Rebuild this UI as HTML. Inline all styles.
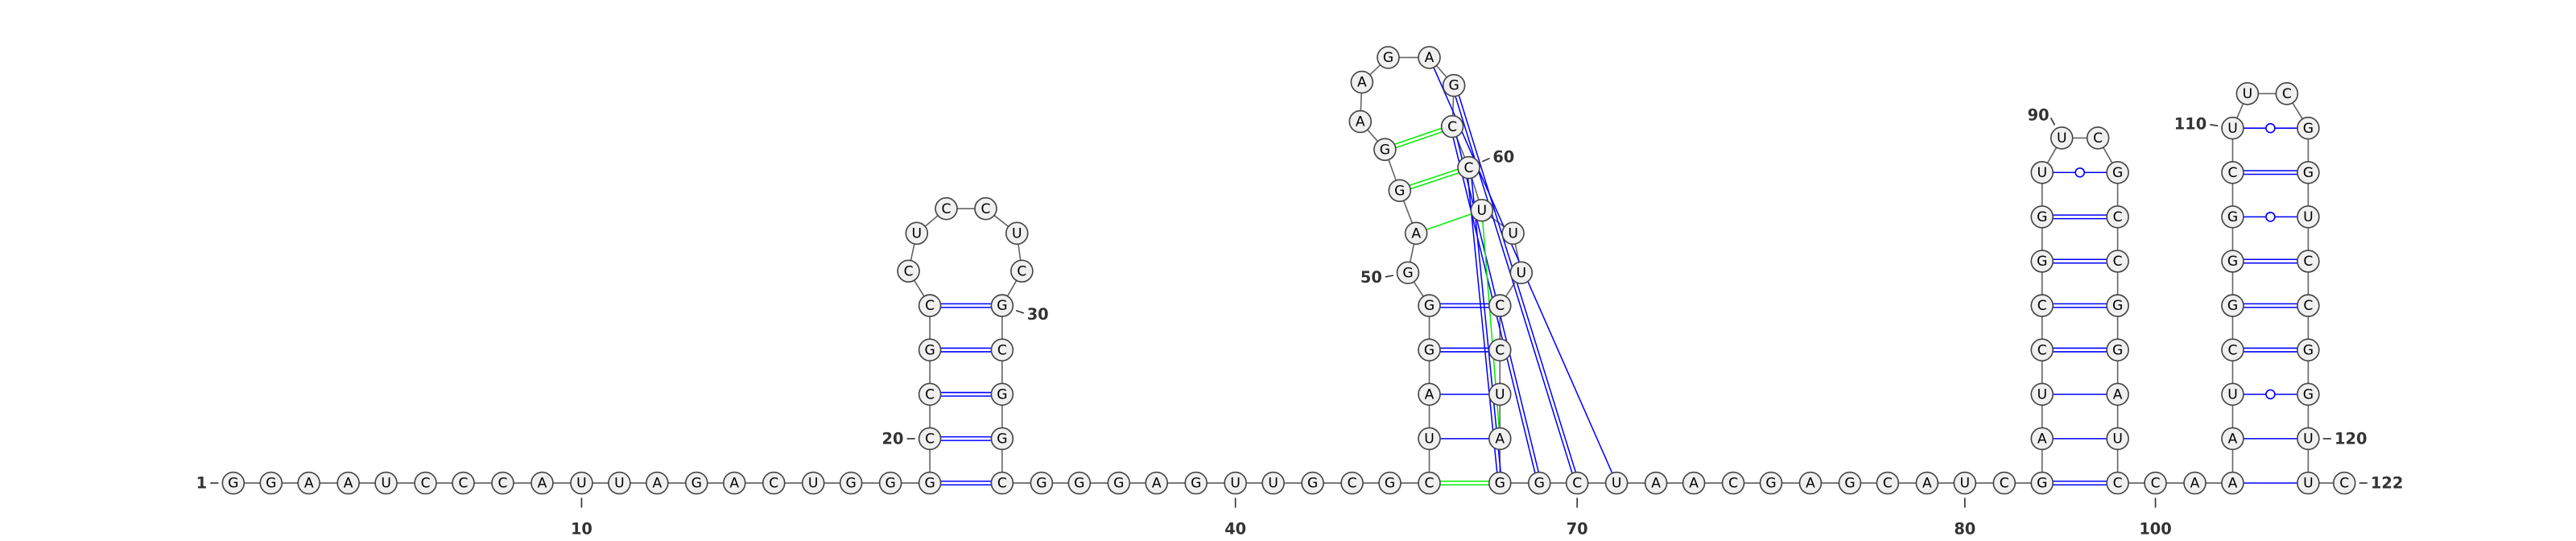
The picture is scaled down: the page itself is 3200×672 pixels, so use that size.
<!DOCTYPE html>
<html><head><meta charset="utf-8"><style>
html,body{margin:0;padding:0;background:#fff;}
svg{display:block;}
.nt{font-family:"DejaVu Sans","Liberation Sans",sans-serif;font-size:8.4px;fill:#000;text-anchor:middle;dominant-baseline:central;}
.lbl{font-family:"DejaVu Sans","Liberation Sans",sans-serif;font-size:9.5px;font-weight:bold;fill:#333;dominant-baseline:central;}
</style></head><body>
<svg id="chart" width="3200" height="672" viewBox="0 0 1568 329.28" xmlns="http://www.w3.org/2000/svg">
<g id="bb"></g>
<g id="bp"></g>
<g id="nts"></g>
<g id="lbls"></g>
</svg>
<script>
const seq = "GGAAUCCCAU"+"UAGACUGGGC"+"CGCCUCCUCG"+"CGGCGGGAGU"+"UGCGCUAGGG"+"AGGAAGAGCC"+"UUUCCUAGGC"+"UAACGAGCAU"+"CGAUCCGGUU"+"CGCCGGAUCC"+"AAAUCGGGCU"+"UCGGUCCGGUUC";
const xs = [142,165,188,212,235,259,282,306,330,354,377,400,424,447,471,495,518,542,566,566,566,566,566,553,558,576,600,619,622,610,610,610,610,610,634,657,681,704,728,752,775,799,823,846,870,870,870,870,870,857,862,852,843,828,829,845,870,885,884,894,902,921,926,913,913,913,913,913,937,960,984,1008,1031,1055,1078,1102,1126,1149,1173,1196,1220,1243,1243,1243,1243,1243,1243,1243,1243,1255,1277,1289,1289,1289,1289,1289,1289,1289,1289,1312,1336,1359,1359,1359,1359,1359,1359,1359,1359,1359,1368,1392,1405,1405,1405,1405,1405,1405,1405,1405,1405,1427];
const ys = [294,294,294,294,294,294,294,294,294,294,294,294,294,294,294,294,294,294,294,267,240,213,186,165,142,127,127,142,165,186,213,240,267,294,294,294,294,294,294,294,294,294,294,294,294,267,240,213,186,166,142,116,91,74,50,35,35,52,77,102,128,142,166,186,213,240,267,294,294,294,294,294,294,294,294,294,294,294,294,294,294,294,267,240,213,186,159,132,105,84,84,105,132,159,186,213,240,267,294,294,294,294,267,240,213,186,159,132,105,78,57,57,78,105,132,159,186,213,240,267,294,294];
const blueDouble = [[19,34],[20,33],[21,32],[22,31],[23,30],[48,65],[49,64],[58,70],[59,69],[60,68],[82,99],[85,96],[86,95],[87,94],[88,93],[105,118],[106,117],[107,116],[109,114]];
const blueSingle = [[46,67],[47,66],[57,71],[83,98],[84,97],[102,121],[103,120]];
const wobble = [[89,92],[104,119],[108,115],[110,113]];
const greenDouble = [[45,68],[52,60],[53,59]];
const greenSingle = [[51,61],[61,67]];
const tickPos = [10,40,70,80,100];
const sideLabels = [[1,"1",-27,0],[20,"20",-28,0],[30,"30",20,7],[50,"50",-27,5],[60,"60",18,-8],[90,"90",-12,-22],[110,"110",-25,-4],[120,"120",13,0],[122,"122",13,0]];

const NS="http://www.w3.org/2000/svg";
const R=6.6;
const N=Math.min(seq.length,xs.length,ys.length);
function px(i){return xs[i-1];}
function py(i){return ys[i-1];}
function mk(tag,attrs,parent){const e=document.createElementNS(NS,tag);for(const k in attrs)e.setAttribute(k,attrs[k]);parent.appendChild(e);return e;}
const bb=document.getElementById('bb'),bp=document.getElementById('bp'),nts=document.getElementById('nts'),lbls=document.getElementById('lbls');

for(let i=1;i<N;i++){
  const l=mk('line',{x1:px(i),y1:py(i),x2:px(i+1),y2:py(i+1),stroke:'#666','stroke-width':0.8},bb);
  
  
}
function pairLine(a,b,color,dbl){
  const x1=px(a),y1=py(a),x2=px(b),y2=py(b);
  const dx=x2-x1,dy=y2-y1,L=Math.hypot(dx,dy),nx=-dy/L,ny=dx/L;
  const offs=dbl?[-1.1,1.1]:[0];
  offs.forEach(o=>{
    const l=mk('line',{x1:x1+nx*o,y1:y1+ny*o,x2:x2+nx*o,y2:y2+ny*o,stroke:color,'stroke-width':0.75},bp);
    
    
  });
}
blueDouble.forEach(p=>pairLine(p[0],p[1],'#0000ff',true));
blueSingle.forEach(p=>pairLine(p[0],p[1],'#0000ff',false));
greenDouble.forEach(p=>pairLine(p[0],p[1],'#00ee00',true));
greenSingle.forEach(p=>pairLine(p[0],p[1],'#00ee00',false));
wobble.forEach(p=>{
  pairLine(p[0],p[1],'#0000ff',false);
  const c=mk('circle',{cx:(px(p[0])+px(p[1]))/2,cy:(py(p[0])+py(p[1]))/2,r:2.7,fill:'#fff',stroke:'#0000ff','stroke-width':0.8},bp);
  
  
});
for(let i=1;i<=N;i++){
  const g=mk('g',{},nts);
  
  
  mk('circle',{cx:px(i),cy:py(i),r:R,fill:'#f0f0f0',stroke:'#444','stroke-width':0.8},g);
  const t=mk('text',{x:px(i),y:py(i)+0.3,class:'nt'},g);
  t.textContent=seq[i-1];
}
tickPos.forEach(i=>{
  const l=mk('line',{x1:px(i),y1:py(i)+9,x2:px(i),y2:py(i)+15,stroke:'#333','stroke-width':0.8},lbls);
  
  
  const t=mk('text',{x:px(i),y:py(i)+28,class:'lbl','text-anchor':'middle'},lbls);
  
  
  t.textContent=String(i);
});
sideLabels.forEach(s=>{
  const i=s[0],x=px(i),y=py(i),dx=s[2],dy=s[3];
  const L=Math.hypot(dx,dy),ux=dx/L,uy=dy/L;
  const l=mk('line',{x1:x+ux*9,y1:y+uy*9,x2:x+ux*14,y2:y+uy*14,stroke:'#333','stroke-width':0.8},lbls);
  
  
  const anchor=dx<-5?'end':(dx>5?'start':'middle');
  const t=mk('text',{x:x+ux*16,y:y+uy*16+(anchor==='middle'?-4:0),class:'lbl','text-anchor':anchor},lbls);
  
  
  t.textContent=s[1];
});
</script>
</body></html>
